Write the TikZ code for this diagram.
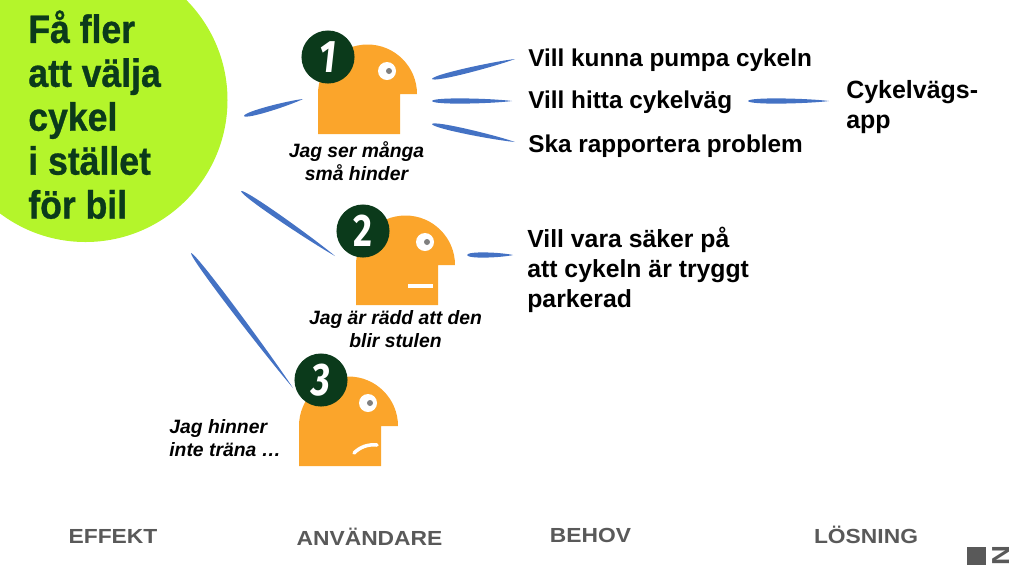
\documentclass[tikz,border=0pt]{standalone}
\usepackage{fontspec}
\usetikzlibrary{calc}
\setmainfont{Liberation Sans}
\newfontfamily\titlefont[FakeStretch=0.9, BoldFeatures={FakeStretch=0.9, FakeBold=0.8}]{Liberation Sans}
\newfontfamily\badgefont[FakeStretch=0.8]{Fira Sans}
\newfontfamily\footfont[FakeStretch=1.12]{Liberation Sans}
\definecolor{limegreen}{HTML}{B4F52B}
\definecolor{darkgreen}{HTML}{0B3A1B}
\definecolor{headorange}{HTML}{FBA52B}
\definecolor{brushblue}{HTML}{4472C4}
\definecolor{footgray}{HTML}{595959}
\newcommand{\brushline}[2]{\fill[brushblue] (#1) .. controls ($(#1)!0.02!(#2)!2.4pt!90:(#2)$) and ($(#1)!0.75!(#2)!1.5pt!90:(#2)$) .. (#2) .. controls ($(#1)!0.75!(#2)!1.5pt!-90:(#2)$) and ($(#1)!0.02!(#2)!2.4pt!-90:(#2)$) .. (#1);}
\tikzset{
    needtext/.style={font=\bfseries\fontsize{13.85}{17.2}\selectfont, align=left, anchor=west, inner sep=0pt},
    quotetext/.style={font=\bfseries\itshape\fontsize{11}{13.3}\selectfont, align=center, inner sep=0pt},
    foottext/.style={font=\footfont\bfseries\fontsize{11.6}{14}\selectfont, text=footgray, inner sep=0pt},
    badge/.style={circle, fill=darkgreen, text=white, minimum size=30.2pt, inner sep=0pt, font=\badgefont\bfseries\fontsize{26}{26}\selectfont},
    head/.pic={
        \fill[headorange] (0, 0) -- (0, -40) arc[start angle=180, end angle=360, radius=49.5] -- (82, -40) -- (82, 0) -- cycle;
        \fill[white] (69, -63) circle[radius=9];
        \fill[gray] (71, -63) circle[radius=3];
    }
}
\begin{document}
\begin{tikzpicture}[x=0.02cm, y=-0.02cm]
    \useasboundingbox (0, 0) rectangle (1024, 576);
    \begin{scope}
        \clip (0, 0) rectangle (1024, 576);
        \fill[limegreen] (85.5, 100) circle[radius=142];
    \end{scope}
    \node[font=\titlefont\bfseries\fontsize{22.5}{25}\selectfont, text=darkgreen, align=left, anchor=north west, inner sep=0pt] (effect) at (28, 10) {Få fler\\att välja\\cykel\\i stället\\för bil};

    \pic at (318, 134) {head};
    \pic at (356, 305) {head};
    \pic at (299, 466) {head};
    \draw[white, line width=2pt] (408, 286) -- (433, 286);
    \draw[white, line width=2pt, line cap=round] (354, 453) .. controls (360, 447) and (368, 444) .. (377, 445);
    \node[badge] (user1) at (328, 57) {\itshape 1};
    \node[badge] (user2) at (363, 231) {2};
    \node[badge] (user3) at (321, 380) {\itshape 3};

    \node[quotetext] (quote1) at (356.5, 161) {Jag ser många\\små hinder};
    \node[quotetext] (quote2) at (395.5, 329) {Jag är rädd att den\\blir stulen};
    \node[quotetext, align=left, anchor=west] (quote3) at (169, 438) {Jag hinner\\inte träna …};

    \node[needtext] (need1) at (528, 60) {Vill kunna pumpa cykeln};
    \node[needtext] (need2) at (528, 102) {Vill hitta cykelväg};
    \node[needtext] (need3) at (528, 146) {Ska rapportera problem};
    \node[needtext, font=\bfseries\fontsize{14.1}{17.2}\selectfont] (need4) at (527, 270) {Vill vara säker på\\att cykeln är tryggt\\parkerad};
    \node[needtext, font=\bfseries\fontsize{14.2}{17.2}\selectfont] (solution) at (846, 107) {Cykelvägs-\\app};

    \coordinate (a1) at (244, 116);
    \coordinate (a2) at (303, 99);
    \coordinate (b1) at (432, 79);
    \coordinate (b2) at (515, 59);
    \coordinate (c1) at (432, 101);
    \coordinate (c2) at (512, 101);
    \coordinate (d1) at (432, 124);
    \coordinate (d2) at (515, 142);
    \coordinate (e1) at (241, 191);
    \coordinate (e2) at (335, 256);
    \coordinate (f1) at (467, 255);
    \coordinate (f2) at (513, 255);
    \coordinate (g1) at (191, 253);
    \coordinate (g2) at (293, 388);
    \coordinate (h1) at (748, 101);
    \coordinate (h2) at (829, 101);
    \brushline{a1}{a2}
    \brushline{b1}{b2}
    \brushline{c1}{c2}
    \brushline{d1}{d2}
    \brushline{e1}{e2}
    \brushline{f1}{f2}
    \brushline{g1}{g2}
    \brushline{h1}{h2}

    \node[foottext] (foot1) at (113, 536) {EFFEKT};
    \node[foottext] (foot2) at (369.5, 537) {ANVÄNDARE};
    \node[foottext] (foot3) at (590.5, 535) {BEHOV};
    \node[foottext] (foot4) at (866, 535) {LÖSNING};
    \fill[footgray] (967, 547) rectangle (986, 565);
    \node[rotate=90, font=\footfont\bfseries\fontsize{14}{14}\selectfont, text=footgray, inner sep=0pt] (logo) at (1001, 556) {N};
\end{tikzpicture}
\end{document}
